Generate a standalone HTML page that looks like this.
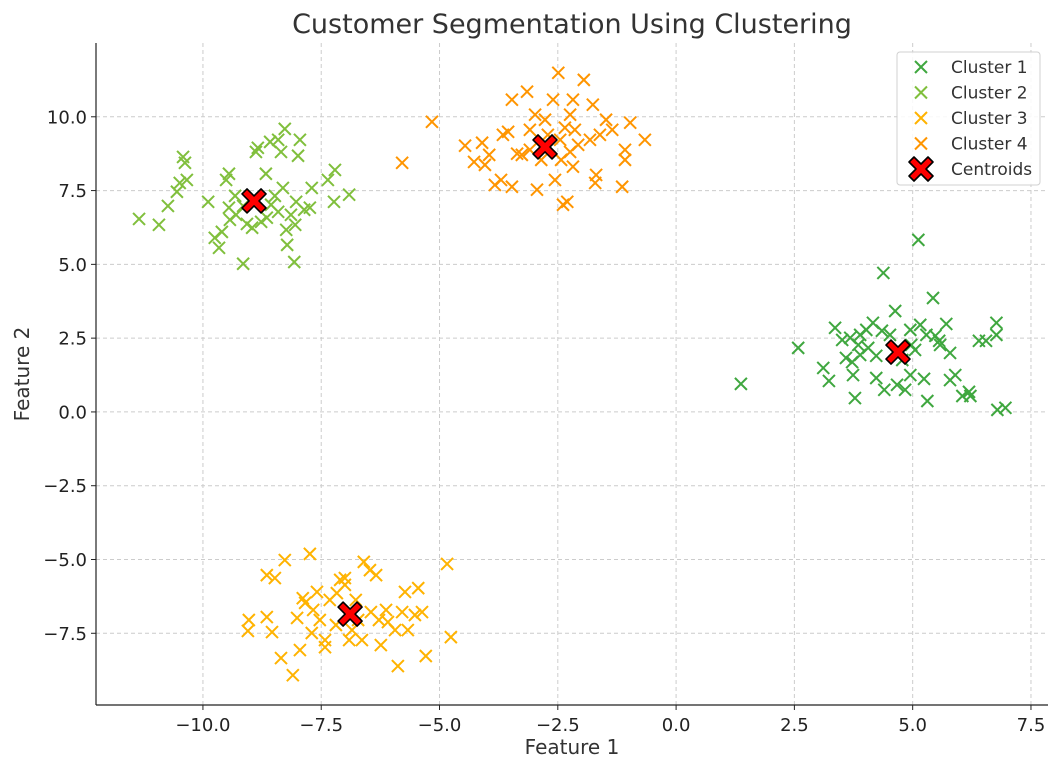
<!DOCTYPE html>
<html><head><meta charset="utf-8"><style>
body{margin:0;background:#fff;}
svg{display:block;font-family:"DejaVu Sans","Liberation Sans",sans-serif;}
</style></head><body>
<svg id="chart" width="1060" height="771" viewBox="0 0 1060 771" xmlns="http://www.w3.org/2000/svg">
<rect width="1060" height="771" fill="#fff"/>
<g id="grid"></g><g id="marks"></g><g id="axes"></g>
<text x="572" y="33" text-anchor="middle" font-size="27" fill="#333">Customer Segmentation Using Clustering</text>
<text x="572" y="754" text-anchor="middle" font-size="20" fill="#333">Feature 1</text>
<text transform="translate(29,374) rotate(-90)" text-anchor="middle" font-size="20" fill="#333">Feature 2</text>
<g id="legend"></g>
</svg>
<script>
const c1x=[1.37,2.58,4.38,5.12,5.43,4.63,6.79,6.96,6.77,6.77,6.55,6.4,6.19,6.22,6.05,5.9,5.79,5.79,5.71,5.56,5.31,5.24,5.05,4.95,4.84,4.67,4.4,4.23,3.78,3.74,3.72,3.23,3.11,3.36,3.51,3.68,3.89,4.02,4.16,4.35,4.52,4.95,5.16,5.29,5.48,3.89,4.06,4.23,4.78,4.97,5.58,3.85,3.59];
const c1y=[0.95,2.17,4.71,5.83,3.86,3.42,0.07,0.14,3.02,2.61,2.41,2.41,0.68,0.54,0.54,1.25,1.08,2.0,2.98,2.41,0.37,1.12,2.1,1.25,0.75,0.92,0.75,1.15,0.47,1.25,1.69,1.05,1.49,2.85,2.44,2.51,2.61,2.78,3.02,2.75,2.61,2.78,2.95,2.61,2.58,1.93,2.17,1.9,1.76,2.27,2.27,2.27,1.83];
const c2x=[-11.35,-10.93,-10.74,-10.55,-10.49,-10.42,-10.34,-10.38,-9.89,-9.75,-9.66,-9.6,-9.51,-9.45,-9.15,-9.43,-9.3,-9.07,-8.96,-8.84,-8.88,-8.67,-8.58,-8.41,-8.27,-8.35,-8.31,-8.24,-8.22,-8.07,-7.99,-7.95,-8.03,-8.05,-7.86,-7.7,-7.74,-7.36,-7.21,-7.23,-6.91,-8.56,-8.48,-8.41,-8.65,-9.15,-9.32,-9.45,-8.77,-8.14];
const c2y=[6.54,6.34,6.98,7.46,7.76,8.64,7.86,8.44,7.12,5.9,5.56,6.1,7.86,8.07,5.02,6.51,6.68,6.37,6.24,8.95,8.81,8.07,9.15,9.22,9.59,8.81,7.59,6.17,5.66,5.08,8.68,9.22,7.12,6.34,6.85,7.59,6.92,7.86,8.2,7.12,7.36,7.02,7.32,6.78,6.58,6.98,7.32,6.92,6.44,6.68];
const c3x=[-9.03,-9.05,-8.65,-8.54,-8.65,-8.48,-8.35,-8.1,-8.27,-7.95,-7.89,-7.84,-8.01,-7.74,-7.67,-7.59,-7.53,-7.7,-7.42,-7.42,-7.32,-7.17,-7.1,-7.0,-7.0,-6.91,-6.85,-6.77,-6.64,-6.6,-6.47,-6.34,-6.24,-6.28,-6.13,-6.09,-5.94,-5.88,-5.79,-5.73,-5.67,-5.52,-5.45,-5.37,-5.29,-4.84,-4.76,-6.45,-7.19,-6.72];
const c3y=[-7.05,-7.42,-6.95,-7.46,-5.53,-5.63,-8.34,-8.92,-5.02,-8.07,-6.31,-6.47,-6.98,-4.81,-6.71,-6.1,-7.05,-7.49,-7.73,-7.97,-6.37,-6.14,-5.69,-5.86,-5.63,-7.73,-7.39,-6.37,-7.73,-5.08,-5.36,-5.53,-7.9,-7.05,-6.71,-7.12,-7.39,-8.61,-6.78,-6.1,-7.39,-6.88,-5.97,-6.78,-8.27,-5.15,-7.63,-6.78,-7.22,-7.05];
const c4x=[-5.79,-5.16,-4.46,-4.27,-4.1,-4.04,-3.95,-3.83,-3.7,-3.66,-3.55,-3.47,-3.47,-3.36,-3.26,-3.15,-3.09,-2.94,-2.98,-2.85,-2.49,-2.6,-2.56,-2.43,-2.39,-2.3,-2.24,-2.18,-2.18,-2.07,-1.95,-1.82,-1.76,-1.69,-1.71,-1.61,-1.48,-1.35,-1.14,-1.08,-1.08,-0.97,-0.66,-2.35,-2.45,-2.14,-2.71,-3.09,-2.77,-2.24];
const c4y=[8.44,9.83,9.02,8.47,9.12,8.37,8.71,7.69,7.86,9.39,9.49,7.63,10.58,8.75,8.71,10.85,9.56,7.53,10.07,8.54,11.49,10.58,7.86,8.54,7.02,7.12,10.07,10.58,8.31,9.05,11.25,9.22,10.41,8.03,7.76,9.39,9.9,9.56,7.63,8.88,8.54,9.8,9.22,9.63,9.22,9.56,9.39,8.88,9.9,8.81];
const cenX=[4.69,-8.92,-6.89,-2.77];
const cenY=[2.03,7.15,-6.85,8.98];
const xTicks=[-10,-7.5,-5,-2.5,0,2.5,5,7.5];
const yTicks=[-7.5,-5,-2.5,0,2.5,5,7.5,10];
const labels=["Cluster 1","Cluster 2","Cluster 3","Cluster 4","Centroids"];
const colors=["#3fa73f","#80bf3c","#ffb300","#ff9500"];

const L=96,R=1048,T=43,B=705;
const xmin=-12.26,xmax=7.86,ymin=-9.93,ymax=12.5;
const sx=v=>L+(v-xmin)/(xmax-xmin)*(R-L);
const sy=v=>B-(v-ymin)/(ymax-ymin)*(B-T);
const NS="http://www.w3.org/2000/svg";
function mk(tag,attrs,parent){const e=document.createElementNS(NS,tag);for(const k in attrs)e.setAttribute(k,attrs[k]);parent.appendChild(e);return e;}
const grid=document.getElementById('grid'),axes=document.getElementById('axes'),marks=document.getElementById('marks'),leg=document.getElementById('legend');
const fmt=v=>(v<0?"\u2212":"")+Math.abs(v).toFixed(1);
xTicks.forEach(v=>{const x=sx(v);
 const g=mk('line',{x1:x,x2:x,y1:T,y2:B,stroke:'#ccc','stroke-dasharray':'4,3','stroke-width':1},grid);
 
 mk('line',{x1:x,x2:x,y1:B,y2:B+5,stroke:'#222'},axes);
 const t=mk('text',{x:x,y:B+26,'text-anchor':'middle','font-size':18,fill:'#222'},axes);t.textContent=fmt(v);
 });
yTicks.forEach(v=>{const y=sy(v);
 const g=mk('line',{x1:L,x2:R,y1:y,y2:y,stroke:'#ccc','stroke-dasharray':'4,3','stroke-width':1},grid);
 
 mk('line',{x1:L-5,x2:L,y1:y,y2:y,stroke:'#222'},axes);
 const t=mk('text',{x:L-9,y:y+6.5,'text-anchor':'end','font-size':18,fill:'#222'},axes);t.textContent=fmt(v);
 });
mk('line',{x1:L,x2:L,y1:T,y2:B,stroke:'#222','stroke-width':1.2},axes);
mk('line',{x1:L,x2:R,y1:B,y2:B,stroke:'#222','stroke-width':1.2},axes);
function xm(x,y,col,s,parent){return mk('path',{d:`M${x-s},${y-s}L${x+s},${y+s}M${x-s},${y+s}L${x+s},${y-s}`,stroke:col,'stroke-width':2,fill:'none'},parent);}
const bigX="M-7,-12L0,-5L7,-12L12,-7L5,0L12,7L7,12L0,5L-7,12L-12,7L-5,0L-12,-7Z";
const xs=[c1x,c2x,c3x,c4x],ys=[c1y,c2y,c3y,c4y];
xs.forEach((arr,k)=>arr.forEach((v,i)=>{const p=xm(sx(v),sy(ys[k][i]),colors[k],6,marks);
 }));
cenX.forEach((v,i)=>{const p=mk('path',{d:bigX,transform:`translate(${sx(v)},${sy(cenY[i])})`,fill:'#ff0000',stroke:'#000','stroke-width':1.6,'stroke-linejoin':'round'},marks);
 });
const lb=mk('rect',{x:897,y:52,width:143,height:133,rx:3,fill:'rgba(255,255,255,0.85)',stroke:'#d0d0d0'},leg);

labels.forEach((l,i)=>{const y=67+i*25.5;
 const g=mk('g',{},leg);
 if(i<4)xm(921,y,colors[i],6,g);else mk('path',{d:bigX,transform:`translate(921,${y})`,fill:'#ff0000',stroke:'#000','stroke-width':1.6,'stroke-linejoin':'round'},g);
 const t=mk('text',{x:951,y:y+6,'font-size':17,fill:'#333'},g);t.textContent=l;});
</script>
</body></html>
